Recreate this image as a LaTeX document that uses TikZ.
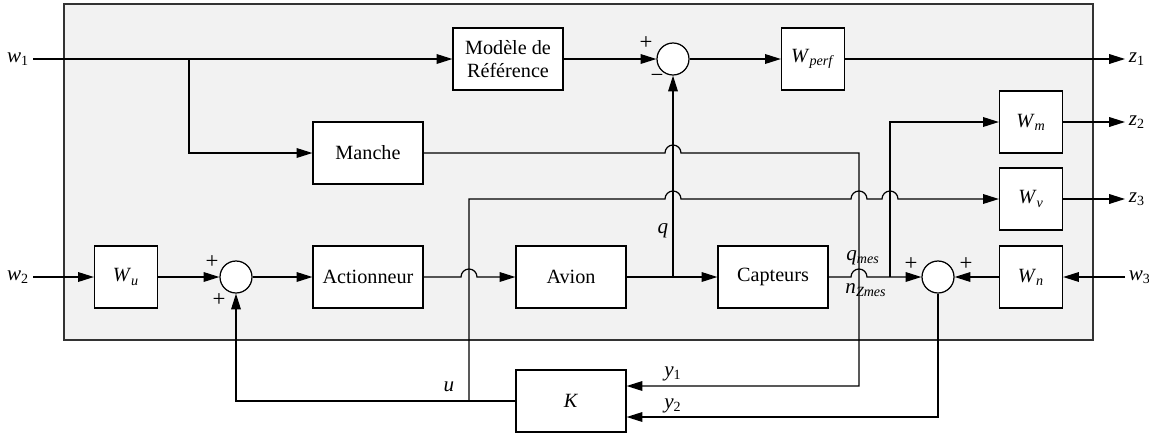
\documentclass[tikz,border=0pt]{standalone}
\usepackage{fontspec}
\setmainfont{Liberation Serif}
\definecolor{framegray}{RGB}{242, 242, 242}
\usetikzlibrary{arrows.meta, calc}
\newcommand{\sig}[2]{\textit{#1}\textsubscript{#2}}

\begin{document}
\begin{tikzpicture}[
    x=0.02cm, y=-0.02cm,
    font=\fontsize{11.5}{13}\selectfont,
    >={Triangle[length=9pt, width=5.5pt]},
    blk/.style={draw, fill=white, line width=0.7pt, minimum width=2.2cm,
                minimum height=1.24cm, align=center, inner sep=1pt},
    wblk/.style={blk, minimum width=1.26cm},
    sumnode/.style={draw, circle, fill=white, line width=0.7pt,
                    minimum size=0.64cm, inner sep=0pt},
    sigline/.style={line width=0.7pt},
    lbl/.style={inner sep=2pt, font=\fontsize{12}{14}\selectfont},
    sgn/.style={inner sep=0pt, font=\fontsize{13}{14}\selectfont},
]
    \useasboundingbox (0,0) rectangle (1149,433);
    \draw[fill=framegray, draw=black!80, line width=1pt] (64,4) rectangle (1093,340);

    \node[blk] (modele) at (508,59) {Modèle de\\Référence};
    \node[sumnode] (sum1) at (673,59) {};
    \node[wblk] (wperf) at (813,59) {\sig{W}{\textit{perf}}};
    \node[blk] (manche) at (368,153) {Manche};
    \node[wblk] (wm) at (1031,122) {\sig{W}{\textit{m}}};
    \node[wblk] (wv) at (1031,199) {\sig{W}{\textit{v}}};
    \node[wblk] (wu) at (126,277) {\sig{W}{\textit{u}}};
    \node[sumnode] (sum2) at (236,277) {};
    \node[blk] (act) at (368,277) {Actionneur};
    \node[blk] (avion) at (571,277) {Avion};
    \node[blk] (capt) at (773,277) {Capteurs};
    \node[sumnode] (sum3) at (938,277) {};
    \node[wblk] (wn) at (1031,277) {\sig{W}{\textit{n}}};
    \node[blk] (K) at (571,401) {\textit{K}};

    \node[lbl, anchor=east] (lw1) at (33,59) {\sig{w}{1}};
    \node[lbl, anchor=east] (lw2) at (33,277) {\sig{w}{2}};
    \node[lbl, anchor=west] (lw3) at (1125,277) {\sig{w}{3}};
    \node[lbl, anchor=west] (lz1) at (1125,59) {\sig{z}{1}};
    \node[lbl, anchor=west] (lz2) at (1125,122) {\sig{z}{2}};
    \node[lbl, anchor=west] (lz3) at (1125,199) {\sig{z}{3}};

    \node[lbl] (lq) at (663,231) {\textit{q}};
    \node[lbl] (lqmes) at (863,258) {\sig{q}{\textit{mes}}};
    \node[lbl] (lnz) at (866,290) {\sig{n}{\textit{Zmes}}};
    \node[lbl] (ly1) at (673,374) {\sig{y}{1}};
    \node[lbl] (ly2) at (673,406) {\sig{y}{2}};
    \node[lbl] (lu) at (449,387) {\textit{u}};

    \node[sgn] at (646,43) {+};
    \node[sgn] at (657,78) {−};
    \node[sgn] at (212,262) {+};
    \node[sgn] at (219,300) {+};
    \node[sgn] at (911,264) {+};
    \node[sgn] at (966,264) {+};

    \coordinate (br1) at (189,59);
    \coordinate (bq) at (sum1.south |- avion.east);
    \coordinate (bu) at (469,0 |- K.west);
    \coordinate (bm) at (890,0 |- capt.east);
    \coordinate (y1in) at ($(K.east)+(0,-15)$);
    \coordinate (y2in) at ($(K.east)+(0,16)$);

    \draw[sigline, ->] (lw1.east) -- (modele.west);
    \draw[sigline, ->] (br1) |- (manche.west);
    \draw[sigline, ->] (modele.east) -- (sum1.west);
    \draw[sigline, ->] (sum1.east) -- (wperf.west);
    \draw[sigline, ->] (wperf.east) -- (lz1.west);
    \draw[sigline, ->] (wm.east) -- (lz2.west);
    \draw[sigline, ->] (wv.east) -- (lz3.west);

    \draw[sigline, ->] (manche.east) -- ($(bq |- manche.east)+(-8,0)$)
        arc[start angle=180, end angle=0, radius=0.16cm] -- (859,153) |- (y1in);
    \draw[sigline, ->] (bu) -- (bu |- wv.west) -- ($(bq |- wv.west)+(-8,0)$)
        arc[start angle=180, end angle=0, radius=0.16cm] -- (851,199)
        arc[start angle=180, end angle=0, radius=0.16cm] -- (882,199)
        arc[start angle=180, end angle=0, radius=0.16cm] -- (wv.west);

    \draw[sigline, ->] (lw2.east) -- (wu.west);
    \draw[sigline, ->] (wu.east) -- (sum2.west);
    \draw[sigline, ->] (sum2.east) -- (act.west);
    \draw[sigline, ->] (act.east) -- ($(bu |- act.east)+(-8,0)$)
        arc[start angle=180, end angle=0, radius=0.16cm] -- (avion.west);
    \draw[sigline, ->] (avion.east) -- (capt.west);
    \draw[sigline, ->] (bq) -- (sum1.south);
    \draw[sigline, ->] (capt.east) -- (851,277)
        arc[start angle=180, end angle=0, radius=0.16cm] -- (sum3.west);
    \draw[sigline, ->] (bm) |- (wm.west);
    \draw[sigline, ->] (lw3.west) -- (wn.east);
    \draw[sigline, ->] (wn.west) -- (sum3.east);

    \draw[sigline, ->] (sum3.south) |- (y2in);
    \draw[sigline, ->] (K.west) -| (sum2.south);
\end{tikzpicture}
\end{document}
